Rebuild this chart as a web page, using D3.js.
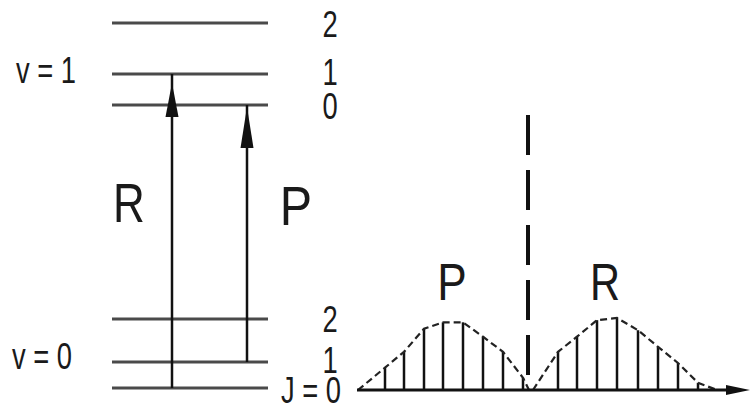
<!DOCTYPE html>
<html>
<head>
<meta charset="utf-8">
<script src="https://cdn.jsdelivr.net/npm/d3@7"></script>
<style>
  html, body { margin: 0; padding: 0; background: #fff; }
  svg { display: block; }
  text { font-family: "Liberation Sans", Arial, sans-serif; fill: #1a1a1a; }
</style>
</head>
<body>
<svg id="chart" width="753" height="404"></svg>
<script>
// Rotational levels (arbitrary energy units) for the two vibrational states
const lowerLevelJ = [0, 1, 2];
const lowerLevelE = [0, 26, 69];
const upperLevelJ = [0, 1, 2];
const upperLevelE = [283, 314, 365];

// Transitions drawn in the level diagram
const transitionNames = ["R", "P"];
const transitionFromJ = [0, 1];
const transitionToJ = [1, 0];

// Spectrum lines: position relative to band centre, relative intensity
const pBranchPos = [-7.15, -6.2, -5.2, -4.25, -3.25, -2.25, -1.25, -0.25];
const pBranchInt = [0.31, 0.53, 0.85, 0.94, 0.94, 0.74, 0.53, 0.17];
const rBranchPos = [1.5, 2.45, 3.45, 4.45, 5.5, 6.5, 7.5, 8.5];
const rBranchInt = [0.53, 0.74, 0.97, 1.0, 0.83, 0.60, 0.375, 0.10];

// Envelope end points where each branch meets the baseline
const pEnvelopeEnds = [-8.5, 0.05];
const rEnvelopeEnds = [0.25, 9.45];

const svg = d3.select("#chart");

// ---------- energy level diagram ----------
const yE = d3.scaleLinear().domain([0, 365]).range([388, 23]);
const levelX0 = 112, levelX1 = 268;

const levels = lowerLevelJ.map((j, i) => ({ v: 0, J: j, E: lowerLevelE[i] }))
  .concat(upperLevelJ.map((j, i) => ({ v: 1, J: j, E: upperLevelE[i] })));

svg.append("g").selectAll("line").data(levels).join("line")
  .attr("x1", levelX0).attr("x2", levelX1)
  .attr("y1", d => yE(d.E)).attr("y2", d => yE(d.E))
  .attr("stroke", "#4a4a4a").attr("stroke-width", 3);

function levelE(v, J) {
  return levels.find(l => l.v === v && l.J === J).E;
}

const arrowX = { R: 172, P: 247 };
const arrowTipGap = { R: 9, P: 2 };
const arrowLen = { R: 34, P: 41 };

const tr = transitionNames.map((n, i) => ({
  name: n,
  yFrom: yE(levelE(0, transitionFromJ[i])),
  yTo: yE(levelE(1, transitionToJ[i]))
}));

const gArr = svg.append("g");
gArr.selectAll("line").data(tr).join("line")
  .attr("x1", d => arrowX[d.name]).attr("x2", d => arrowX[d.name])
  .attr("y1", d => d.yFrom).attr("y2", d => d.yTo)
  .attr("stroke", "#111").attr("stroke-width", 2.5);
gArr.selectAll("path").data(tr).join("path")
  .attr("d", d => {
    const x = arrowX[d.name], tip = d.yTo + arrowTipGap[d.name], base = tip + arrowLen[d.name];
    return `M${x},${tip} L${x + 6.5},${base} L${x - 6.5},${base} Z`;
  })
  .attr("fill", "#111");

// text helper: condensed sans labels
function label(x, y, txt, size, anchor, sx) {
  svg.append("text")
    .attr("transform", `translate(${x},${y}) scale(${sx},1)`)
    .attr("text-anchor", anchor)
    .attr("font-size", size)
    .text(txt);
}
label(129, 222, "R", 55, "middle", 0.8);
label(296, 225, "P", 55, "middle", 0.88);

// vibrational labels
label(16, 83, "v = 1", 37, "start", 0.74);
label(12, 369, "v = 0", 37, "start", 0.74);

// rotational quantum numbers
const upperLabelDy = [14, 11, 14];
const lowerLabelDy = [15, 11, 13];
upperLevelJ.forEach((j, i) => {
  label(330, yE(upperLevelE[i]) + upperLabelDy[i], String(j), 37, "middle", 0.74);
});
lowerLevelJ.forEach((j, i) => {
  if (j === 0) label(341, yE(lowerLevelE[i]) + lowerLabelDy[i], "J = " + j, 37, "end", 0.74);
  else label(330, yE(lowerLevelE[i]) + lowerLabelDy[i], String(j), 37, "middle", 0.74);
});

// ---------- spectrum ----------
const xS = d3.scaleLinear().domain([-8.55, 11.1]).range([357, 750]);
const yS = d3.scaleLinear().domain([0, 1]).range([390, 318]);

// band centre
svg.append("line")
  .attr("x1", xS(0)).attr("x2", xS(0))
  .attr("y1", 115).attr("y2", 376)
  .attr("stroke", "#111").attr("stroke-width", 4)
  .attr("stroke-dasharray", "40,15");

const lines = pBranchPos.map((p, i) => ({ p, I: pBranchInt[i] }))
  .concat(rBranchPos.map((p, i) => ({ p, I: rBranchInt[i] })));

svg.append("g").selectAll("line").data(lines).join("line")
  .attr("x1", d => xS(d.p)).attr("x2", d => xS(d.p))
  .attr("y1", yS(0)).attr("y2", d => yS(d.I))
  .attr("stroke", "#111").attr("stroke-width", 2.5);

// envelopes
const env = d3.line().x(d => xS(d[0])).y(d => yS(d[1]));
const pEnv = [[pEnvelopeEnds[0], 0]].concat(pBranchPos.map((p, i) => [p, pBranchInt[i]]), [[pEnvelopeEnds[1], 0]]);
const rEnv = [[rEnvelopeEnds[0], 0]].concat(rBranchPos.map((p, i) => [p, rBranchInt[i]]), [[rEnvelopeEnds[1], 0]]);
svg.append("g").selectAll("path").data([pEnv, rEnv]).join("path")
  .attr("d", env)
  .attr("fill", "none").attr("stroke", "#222").attr("stroke-width", 2.2)
  .attr("stroke-dasharray", "7,4");

// frequency axis with arrow
svg.append("line")
  .attr("x1", xS(-8.55)).attr("x2", xS(10.0))
  .attr("y1", yS(0)).attr("y2", yS(0))
  .attr("stroke", "#111").attr("stroke-width", 3);
svg.append("path")
  .attr("d", `M${xS(11.1)},${yS(0)} L${xS(9.9)},${yS(0) - 5} L${xS(9.9)},${yS(0) + 5} Z`)
  .attr("fill", "#111");

label(452, 300, "P", 52, "middle", 0.85);
label(605, 300, "R", 52, "middle", 0.8);
</script>
</body>
</html>
